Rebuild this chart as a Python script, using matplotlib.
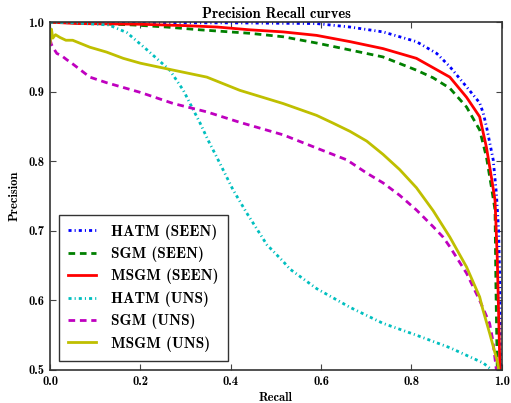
import matplotlib
matplotlib.use("Agg")
import matplotlib.pyplot as plt

# ---- data ----
hatm_seen_r = [0.0, 0.2, 0.4, 0.59, 0.664, 0.737, 0.811, 0.856, 0.885, 0.922, 0.951, 0.959, 0.966, 0.981, 0.988, 0.993, 0.996, 0.997]
hatm_seen_p = [1.0, 0.999, 0.999, 0.998, 0.993, 0.986, 0.972, 0.955, 0.936, 0.907, 0.884, 0.869, 0.85, 0.802, 0.754, 0.70, 0.615, 0.5]

sgm_seen_r = [0.0, 0.06, 0.184, 0.258, 0.332, 0.42, 0.442, 0.516, 0.59, 0.664, 0.737, 0.811, 0.848, 0.885, 0.922, 0.951, 0.966, 0.977, 0.985, 0.987, 0.99]
sgm_seen_p = [1.0, 0.999, 0.996, 0.993, 0.989, 0.985, 0.984, 0.979, 0.970, 0.960, 0.950, 0.931, 0.920, 0.905, 0.878, 0.845, 0.806, 0.763, 0.73, 0.62, 0.5]

msgm_seen_r = [0.0, 0.06, 0.2, 0.3, 0.37, 0.442, 0.516, 0.59, 0.664, 0.737, 0.811, 0.885, 0.922, 0.951, 0.966, 0.977, 0.985, 0.99, 0.996]
msgm_seen_p = [1.0, 0.998, 0.997, 0.995, 0.993, 0.989, 0.986, 0.981, 0.972, 0.962, 0.948, 0.921, 0.892, 0.864, 0.82, 0.777, 0.744, 0.66, 0.5]

hatm_uns_r = [0.0, 0.05, 0.13, 0.17, 0.215, 0.265, 0.295, 0.317, 0.332, 0.35, 0.369, 0.405, 0.435, 0.48, 0.516, 0.531, 0.59, 0.664, 0.737, 0.811, 0.885, 0.959, 0.978]
hatm_uns_p = [1.0, 0.999, 0.996, 0.985, 0.96, 0.931, 0.902, 0.874, 0.855, 0.83, 0.806, 0.759, 0.726, 0.68, 0.656, 0.645, 0.617, 0.590, 0.567, 0.550, 0.532, 0.51, 0.5]

sgm_uns_r = [0.0, 0.003, 0.007, 0.015, 0.025, 0.037, 0.05, 0.07, 0.088, 0.125, 0.2, 0.273, 0.347, 0.42, 0.516, 0.59, 0.657, 0.701, 0.737, 0.774, 0.811, 0.848, 0.87, 0.885, 0.922, 0.951, 0.973, 0.98, 0.988]
sgm_uns_p = [0.975, 0.968, 0.963, 0.955, 0.952, 0.946, 0.940, 0.930, 0.921, 0.913, 0.899, 0.883, 0.871, 0.856, 0.838, 0.819, 0.802, 0.783, 0.769, 0.751, 0.73, 0.706, 0.691, 0.677, 0.639, 0.600, 0.567, 0.543, 0.5]

msgm_uns_r = [0.0, 0.003, 0.006, 0.012, 0.022, 0.035, 0.05, 0.088, 0.125, 0.162, 0.2, 0.273, 0.347, 0.42, 0.516, 0.59, 0.626, 0.664, 0.701, 0.737, 0.774, 0.811, 0.848, 0.885, 0.922, 0.951, 0.958, 0.973, 0.991, 0.993]
msgm_uns_p = [0.97, 0.99, 0.977, 0.982, 0.978, 0.974, 0.974, 0.964, 0.957, 0.948, 0.941, 0.931, 0.921, 0.902, 0.883, 0.866, 0.855, 0.843, 0.829, 0.810, 0.788, 0.762, 0.729, 0.691, 0.648, 0.605, 0.587, 0.553, 0.51, 0.5]

labels = ["HATM (SEEN)", "SGM (SEEN)", "MSGM (SEEN)", "HATM (UNS)", "SGM (UNS)", "MSGM (UNS)"]
xticks = [0.0, 0.2, 0.4, 0.6, 0.8, 1.0]
yticks = [0.5, 0.6, 0.7, 0.8, 0.9, 1.0]

font = "cmb10"

fig = plt.figure(figsize=(5.11, 4.03), dpi=100)
ax = fig.add_axes([0.098, 0.082, 0.884, 0.863])

lw = 2.0
dashdot = (0, (1.1, 1.1, 0.4, 1.1))
dash = (0, (2.4, 1.7))
ax.plot(hatm_seen_r, hatm_seen_p, color=(0, 0, 1), ls=dashdot, lw=lw, label=labels[0])
ax.plot(sgm_seen_r, sgm_seen_p, color=(0, 0.5, 0), ls=dash, lw=lw, label=labels[1])
ax.plot(msgm_seen_r, msgm_seen_p, color=(1, 0, 0), ls="-", lw=lw, label=labels[2])
ax.plot(hatm_uns_r, hatm_uns_p, color=(0, 0.75, 0.75), ls=dashdot, lw=lw, label=labels[3])
ax.plot(sgm_uns_r, sgm_uns_p, color=(0.75, 0, 0.75), ls=dash, lw=lw, label=labels[4])
ax.plot(msgm_uns_r, msgm_uns_p, color=(0.75, 0.75, 0), ls="-", lw=lw, label=labels[5])

ax.set_xlim(0, 1)
ax.set_ylim(0.5, 1.0)
ax.set_xticks(xticks)
ax.set_yticks(yticks)
ax.set_xticklabels([f"{v:.1f}" for v in xticks], fontfamily=font, fontsize=9)
ax.set_yticklabels([f"{v:.1f}" for v in yticks], fontfamily=font, fontsize=9)
ax.tick_params(direction="in", top=True, right=True, length=4, width=0.8, color="#444444", pad=4)
for s in ax.spines.values():
    s.set_color("#333333")
    s.set_linewidth(1.2)

ax.set_title("Precision Recall curves", fontfamily=font, fontsize=10.5, pad=3)
ax.set_xlabel("Recall", fontfamily=font, fontsize=9, labelpad=3)
ax.set_ylabel("Precision", fontfamily=font, fontsize=9, labelpad=6)

leg = ax.legend(loc="lower left", prop={"family": font, "size": 11}, handlelength=1.8,
                fancybox=False, edgecolor="#333333", borderaxespad=0.6, labelspacing=0.45,
                borderpad=0.6, handletextpad=1.0)
leg.get_frame().set_linewidth(1.0)
leg.get_frame().set_alpha(1)

fig.savefig("out.png", dpi=100)
